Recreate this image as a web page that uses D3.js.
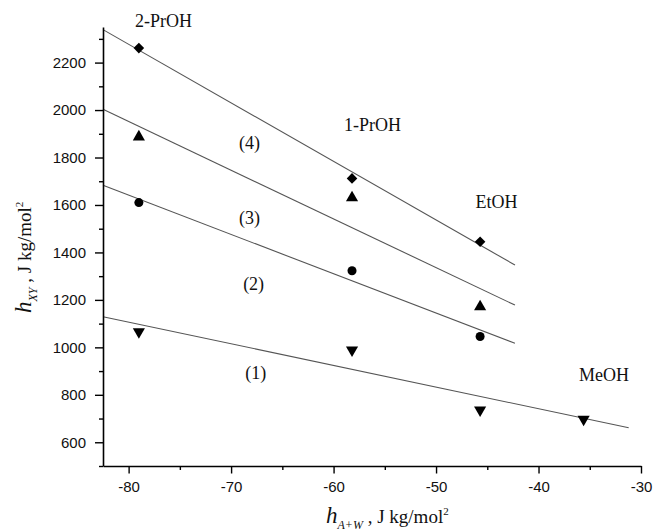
<!DOCTYPE html>
<html>
<head>
<meta charset="utf-8">
<script src="https://cdn.jsdelivr.net/npm/d3@7"></script>
<style>
  body { margin: 0; background: #fff; }
  svg { display: block; }
  .serif { font-family: "Liberation Serif", "Times New Roman", serif; fill: #111; }
</style>
</head>
<body>
<div id="chart"></div>
<script>
// measured points: x = h(A+W), y = h(XY)
const xMajorTicks = [-80, -70, -60, -50, -40, -30];
const xMinorTicks = [-75, -65, -55, -45, -35];
const yMajorTicks = [600, 800, 1000, 1200, 1400, 1600, 1800, 2000, 2200];
const yMinorTicks = [500, 700, 900, 1100, 1300, 1500, 1700, 1900, 2100, 2300];

const series1 = [[-79, 1066], [-58.2, 989], [-45.7, 736], [-35.6, 697]];   // down triangles
const series2 = [[-79, 1610], [-58.2, 1323], [-45.7, 1046]];               // circles
const series3 = [[-79, 1887], [-58.2, 1630], [-45.7, 1171]];               // up triangles
const series4 = [[-79, 2261], [-58.2, 1712], [-45.7, 1445]];               // diamonds

// fitted lines, start and end
const fit1 = [[-82.5, 1129], [-31.2, 661]];
const fit2 = [[-82.5, 1683], [-42.3, 1017]];
const fit3 = [[-82.5, 2003], [-42.3, 1178]];
const fit4 = [[-82.5, 2339], [-42.3, 1347]];

const alcoholLabels = [
  { text: "2-PrOH", x: -76.6, y: 2352 },
  { text: "1-PrOH", x: -56.2, y: 1912 },
  { text: "EtOH", x: -44.1, y: 1588 },
  { text: "MeOH", x: -33.6, y: 860 },
];
const lineLabels = [
  { text: "(4)", x: -68.2, y: 1835 },
  { text: "(3)", x: -68.2, y: 1520 },
  { text: "(2)", x: -67.8, y: 1240 },
  { text: "(1)", x: -67.6, y: 868 },
];

const width = 654, height = 532;
const margin = { top: 27, right: 13, bottom: 66, left: 103 };

const svg = d3.select("#chart").append("svg")
  .attr("width", width).attr("height", height);

const x = d3.scaleLinear().domain([-82.5, -30]).range([margin.left, width - margin.right]);
const y = d3.scaleLinear().domain([500, 2350]).range([height - margin.bottom, margin.top]);

// fitted lines
const line = d3.line().x(d => x(d[0])).y(d => y(d[1]));
svg.append("g")
  .selectAll("path")
  .data([fit1, fit2, fit3, fit4])
  .join("path")
  .attr("d", line)
  .attr("fill", "none")
  .attr("stroke", "#555")
  .attr("stroke-width", 1.1);

// markers
const markerSets = [
  { data: series1, symbol: d3.symbolTriangle, size: 64, rotate: 180 },
  { data: series2, symbol: d3.symbolCircle, size: 64, rotate: 0 },
  { data: series3, symbol: d3.symbolTriangle, size: 64, rotate: 0 },
  { data: series4, symbol: d3.symbolSquare, size: 56, rotate: 45 },
];
markerSets.forEach(s => {
  svg.append("g")
    .selectAll("path")
    .data(s.data)
    .join("path")
    .attr("d", d3.symbol().type(s.symbol).size(s.size))
    .attr("transform", d => `translate(${x(d[0])},${y(d[1])}) rotate(${s.rotate})`)
    .attr("fill", "#000");
});

const plain = d => String(d);
const tickText = g => g.selectAll(".tick text")
  .style("font-family", '"Liberation Sans", Arial, sans-serif')
  .style("font-size", "15px")
  .attr("fill", "#111");

// axes
svg.append("g").attr("transform", `translate(0,${height - margin.bottom})`)
  .call(d3.axisBottom(x).tickValues(xMinorTicks).tickSize(4).tickFormat(""))
  .call(g => g.select(".domain").remove())
  .call(g => g.selectAll(".tick line").attr("stroke-width", 1.4));
svg.append("g").attr("transform", `translate(0,${height - margin.bottom})`)
  .call(d3.axisBottom(x).tickValues(xMajorTicks).tickSize(7.5).tickSizeOuter(0).tickPadding(8).tickFormat(plain))
  .call(g => g.select(".domain").attr("stroke-width", 1.6))
  .call(g => g.selectAll(".tick line").attr("stroke-width", 1.4))
  .call(tickText);

svg.append("g").attr("transform", `translate(${margin.left},0)`)
  .call(d3.axisLeft(y).tickValues(yMinorTicks).tickSize(4).tickFormat(""))
  .call(g => g.select(".domain").remove())
  .call(g => g.selectAll(".tick line").attr("stroke-width", 1.4));
svg.append("g").attr("transform", `translate(${margin.left},0)`)
  .call(d3.axisLeft(y).tickValues(yMajorTicks).tickSize(8).tickSizeOuter(0).tickPadding(9).tickFormat(plain))
  .call(g => g.select(".domain").attr("stroke-width", 1.6))
  .call(g => g.selectAll(".tick line").attr("stroke-width", 1.4))
  .call(tickText);

// annotation labels
svg.append("g")
  .selectAll("text")
  .data(alcoholLabels.concat(lineLabels))
  .join("text")
  .attr("class", "serif")
  .attr("x", d => x(d.x))
  .attr("y", d => y(d.y))
  .attr("text-anchor", "middle")
  .attr("font-size", 18)
  .text(d => d.text);

// axis titles
const xt = svg.append("text").attr("class", "serif")
  .attr("x", 326).attr("y", 523).attr("font-size", 19);
xt.append("tspan").attr("font-style", "italic").attr("font-size", 23).text("h");
xt.append("tspan").attr("font-style", "italic").attr("font-size", 12).attr("dy", 6).text("A+W");
xt.append("tspan").attr("dy", -6).text(" , J kg/mol");
xt.append("tspan").attr("font-size", 11).attr("dy", -8).text("2");

const yt = svg.append("text").attr("class", "serif")
  .attr("transform", "translate(31,313) rotate(-90)").attr("font-size", 19);
yt.append("tspan").attr("font-style", "italic").attr("font-size", 23).text("h");
yt.append("tspan").attr("font-style", "italic").attr("font-size", 12).attr("dy", 6).text("XY");
yt.append("tspan").attr("dy", -6).text(" , J kg/mol");
yt.append("tspan").attr("font-size", 11).attr("dy", -8).text("2");
</script>
</body>
</html>
